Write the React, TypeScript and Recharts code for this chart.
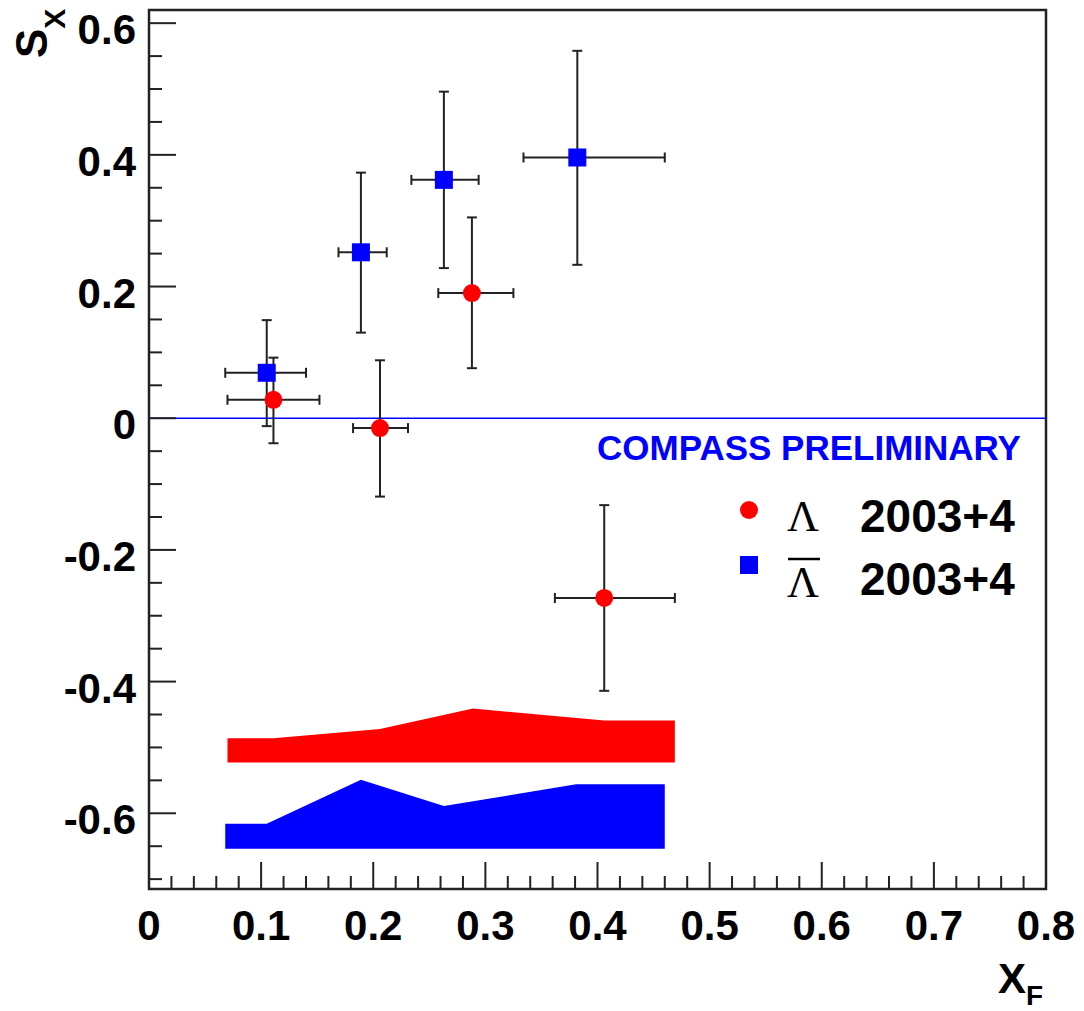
import React from "react";
import {
  ComposedChart,
  Area,
  Scatter,
  ErrorBar,
  XAxis,
  YAxis,
  ReferenceLine,
  ReferenceArea,
} from "recharts";

// Lambda 2003+4 (red circles)
const lamX = [0.111, 0.206, 0.288, 0.406];
const lamY = [0.028, -0.015, 0.19, -0.273];
const lamXLo = [0.07, 0.182, 0.258, 0.362];
const lamXHi = [0.152, 0.231, 0.325, 0.469];
const lamYLo = [-0.038, -0.119, 0.076, -0.414];
const lamYHi = [0.092, 0.088, 0.305, -0.132];

// anti-Lambda 2003+4 (blue squares)
const barX = [0.105, 0.189, 0.263, 0.382];
const barY = [0.069, 0.252, 0.362, 0.396];
const barXLo = [0.068, 0.169, 0.234, 0.334];
const barXHi = [0.14, 0.212, 0.294, 0.46];
const barYLo = [-0.012, 0.13, 0.228, 0.233];
const barYHi = [0.149, 0.373, 0.496, 0.558];

// systematic bands
const lamSysX = [0.07, 0.111, 0.206, 0.289, 0.406, 0.469];
const lamSysTop = [-0.486, -0.486, -0.472, -0.441, -0.459, -0.459];
const lamSysBase = -0.523;
const barSysX = [0.068, 0.105, 0.189, 0.263, 0.381, 0.46];
const barSysTop = [-0.616, -0.616, -0.549, -0.589, -0.556, -0.556];
const barSysBase = -0.654;

const xDomain = [0, 0.8];
const yDomain = [-0.715, 0.62];
const xMajor = [0, 0.1, 0.2, 0.3, 0.4, 0.5, 0.6, 0.7, 0.8];
const yMajor = [-0.6, -0.4, -0.2, 0, 0.2, 0.4, 0.6];

const FONT = '"Liberation Sans", Arial, Helvetica, sans-serif';
const SERIF = '"Liberation Serif", "DejaVu Serif", serif';
const PLOT_LEFT = 149;
const PLOT_BOTTOM = 889;
const AXIS_COLOR = "#222";

// minor ticks every 0.02 in x, 0.05 in y
const xTicks: number[] = [];
for (let i = 0; i <= 40; i++) xTicks.push(+(i * 0.02).toFixed(2));
const yTicks: number[] = [];
for (let i = -14; i <= 12; i++) yTicks.push(+(i * 0.05).toFixed(2));

const isMajor = (v: number, list: number[]) =>
  list.some((m) => Math.abs(m - v) < 1e-6);
const fmt = (v: number) => (Math.abs(v) < 1e-9 ? "0" : v.toFixed(1));

const toPoints = (
  xs: number[],
  ys: number[],
  xlo: number[],
  xhi: number[],
  ylo: number[],
  yhi: number[]
) =>
  xs.map((x, i) => ({
    x,
    y: ys[i],
    ex: [x - xlo[i], xhi[i] - x],
    ey: [ys[i] - ylo[i], yhi[i] - ys[i]],
  }));

const lamPoints = toPoints(lamX, lamY, lamXLo, lamXHi, lamYLo, lamYHi);
const barPoints = toPoints(barX, barY, barXLo, barXHi, barYLo, barYHi);
const lamBand = lamSysX.map((x, i) => ({ x, band: [lamSysBase, lamSysTop[i]] }));
const barBand = barSysX.map((x, i) => ({ x, band: [barSysBase, barSysTop[i]] }));

function YTick(props: any) {
  const { y, payload } = props;
  const major = isMajor(payload.value, yMajor);
  return (
    <g>
      <line
        x1={PLOT_LEFT}
        x2={PLOT_LEFT + (major ? 27 : 13)}
        y1={y}
        y2={y}
        stroke={AXIS_COLOR}
        strokeWidth={2}
      />
      {major && (
        <text
          x={136}
          y={y + 21}
          textAnchor="end"
          fontFamily={FONT}
          fontWeight="bold"
          fontSize={42}
          fill="#000"
        >
          {fmt(payload.value)}
        </text>
      )}
    </g>
  );
}

function XTick(props: any) {
  const { x, payload } = props;
  const major = isMajor(payload.value, xMajor);
  return (
    <g>
      <line
        x1={x}
        x2={x}
        y1={PLOT_BOTTOM}
        y2={PLOT_BOTTOM - (major ? 27 : 13)}
        stroke={AXIS_COLOR}
        strokeWidth={2}
      />
      {major && (
        <text
          x={x}
          y={PLOT_BOTTOM + 51}
          textAnchor="middle"
          fontFamily={FONT}
          fontWeight="bold"
          fontSize={42}
          fill="#000"
        >
          {fmt(payload.value)}
        </text>
      )}
    </g>
  );
}

const circleShape = (p: any) => <circle cx={p.cx} cy={p.cy} r={9} fill="#ff0000" />;
const squareShape = (p: any) => (
  <rect x={p.cx - 9} y={p.cy - 9} width={18} height={18} fill="#0000ff" />
);

export default function App() {
  return (
    <div style={{ position: "absolute", left: 0, top: 0, width: 1084, height: 1011, background: "#fff" }}>
      <ComposedChart
        width={1084}
        height={1011}
        margin={{ top: 10, right: 38, left: 0, bottom: 0 }}
      >
        <XAxis
          dataKey="x"
          type="number"
          domain={xDomain}
          allowDataOverflow
          ticks={xTicks}
          interval={0}
          tick={XTick}
          tickLine={false}
          axisLine={false}
          height={122}
        />
        <YAxis
          dataKey="y"
          type="number"
          domain={yDomain}
          allowDataOverflow
          ticks={yTicks}
          interval={0}
          tick={YTick}
          tickLine={false}
          axisLine={false}
          width={149}
        />
        <Area
          data={lamBand}
          dataKey="band"
          type="linear"
          fill="#ff0000"
          fillOpacity={1}
          stroke="none"
          isAnimationActive={false}
        />
        <Area
          data={barBand}
          dataKey="band"
          type="linear"
          fill="#0000ff"
          fillOpacity={1}
          stroke="none"
          isAnimationActive={false}
        />
        <ReferenceLine y={0} stroke="#0000ff" strokeWidth={1.5} />
        <Scatter data={barPoints} shape={squareShape} isAnimationActive={false}>
          <ErrorBar dataKey="ex" direction="x" width={5} stroke={AXIS_COLOR} strokeWidth={2} />
          <ErrorBar dataKey="ey" direction="y" width={5} stroke={AXIS_COLOR} strokeWidth={2} />
        </Scatter>
        <Scatter data={lamPoints} shape={circleShape} isAnimationActive={false}>
          <ErrorBar dataKey="ex" direction="x" width={5} stroke={AXIS_COLOR} strokeWidth={2} />
          <ErrorBar dataKey="ey" direction="y" width={5} stroke={AXIS_COLOR} strokeWidth={2} />
        </Scatter>
        <ReferenceArea
          x1={xDomain[0]}
          x2={xDomain[1]}
          y1={yDomain[0]}
          y2={yDomain[1]}
          fill="none"
          fillOpacity={0}
          stroke={AXIS_COLOR}
          strokeWidth={2.5}
          ifOverflow="visible"
        />
      </ComposedChart>
      <svg
        width={1084}
        height={1011}
        style={{ position: "absolute", left: 0, top: 0, pointerEvents: "none" }}
      >
        <text
          x={597}
          y={460}
          fontFamily={FONT}
          fontWeight="bold"
          fontSize={35}
          fill="#0000ff"
        >
          COMPASS PRELIMINARY
        </text>
        {/* legend */}
        <circle cx={749} cy={510} r={9} fill="#ff0000" />
        <text x={787} y={531} fontFamily={SERIF} fontSize={44} fill="#000">
          Λ
        </text>
        <text x={860} y={532} fontFamily={FONT} fontWeight="bold" fontSize={46} fill="#000">
          2003+4
        </text>
        <rect x={740} y={556} width={18} height={18} fill="#0000ff" />
        <line x1={788} x2={820} y1={559} y2={559} stroke="#000" strokeWidth={2.5} />
        <text x={787} y={597} fontFamily={SERIF} fontSize={44} fill="#000">
          Λ
        </text>
        <text x={860} y={595} fontFamily={FONT} fontWeight="bold" fontSize={46} fill="#000">
          2003+4
        </text>
        {/* axis titles */}
        <text
          transform="translate(47,58) rotate(-90)"
          fontFamily={FONT}
          fontWeight="bold"
          fontSize={44}
          fill="#000"
        >
          S
          <tspan fontSize={30} dy={18}>
            X
          </tspan>
        </text>
        <text x={998} y={993} fontFamily={FONT} fontWeight="bold" fontSize={42} fill="#000">
          X
          <tspan fontSize={28} dy={12}>
            F
          </tspan>
        </text>
      </svg>
    </div>
  );
}
